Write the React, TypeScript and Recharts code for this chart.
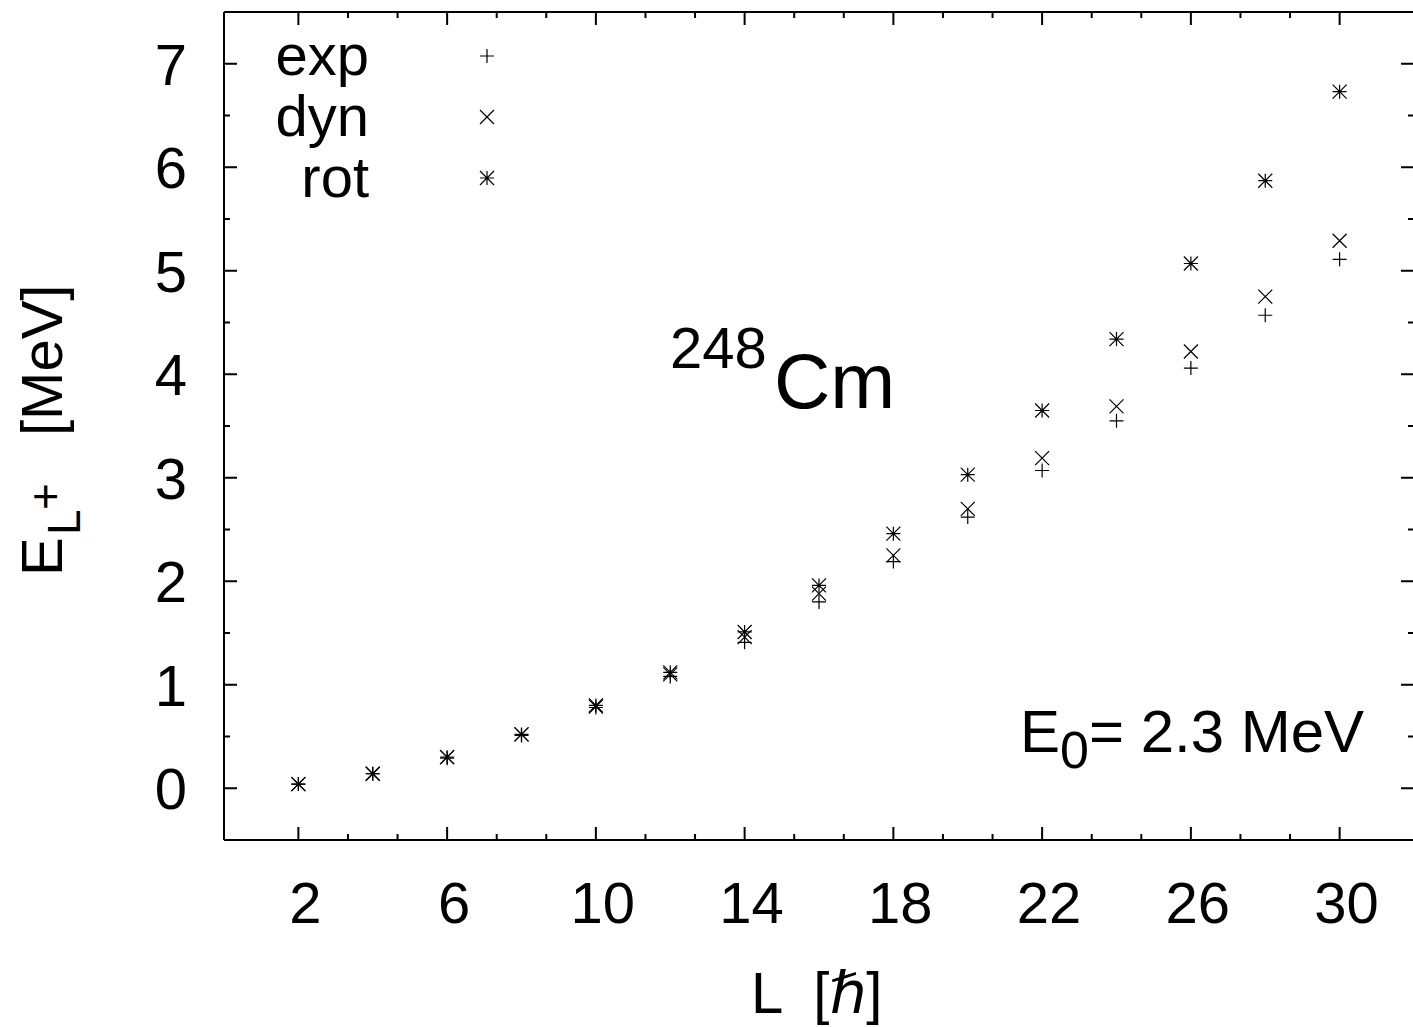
import React from 'react';
import { ScatterChart, Scatter, XAxis, YAxis, Legend } from 'recharts';

// angular momentum L [hbar]
const spins = [2, 4, 6, 8, 10, 12, 14, 16, 18, 20, 22, 24, 26, 28, 30];
// level energies [MeV]
const expE = [0.04, 0.14, 0.29, 0.51, 0.78, 1.08, 1.41, 1.80, 2.19, 2.62, 3.07, 3.55, 4.06, 4.57, 5.11];
const dynE = [0.04, 0.14, 0.30, 0.52, 0.79, 1.10, 1.46, 1.88, 2.25, 2.70, 3.19, 3.69, 4.22, 4.75, 5.29];
const rotE = [0.04, 0.14, 0.30, 0.52, 0.80, 1.12, 1.51, 1.96, 2.46, 3.03, 3.65, 4.34, 5.07, 5.87, 6.73];

const xMajor = [2, 6, 10, 14, 18, 22, 26, 30];
const yMajor = [0, 1, 2, 3, 4, 5, 6, 7];

const xMinor = xMajor.slice(1).flatMap((t) => [t - 8 / 3, t - 4 / 3]);
const yMinor = yMajor.slice(1).map((t) => t - 0.5);
const xTicks = [...xMajor, ...xMinor].sort((a, b) => a - b);
const yTicks = [...yMajor, ...yMinor].sort((a, b) => a - b);

const legendItems = [
  { name: 'exp', marker: 'plus' },
  { name: 'dyn', marker: 'cross' },
  { name: 'rot', marker: 'star' },
];

const FONT = '"Liberation Sans", Arial, Helvetica, sans-serif';
const INK = '#000';

const toRows = (ys: number[]) => spins.map((L, i) => ({ L, E: ys[i] }));

function markerPath(kind: string, cx: number, cy: number, s = 7) {
  const plus = `M${cx - s},${cy}H${cx + s}M${cx},${cy - s}V${cy + s}`;
  const cross = `M${cx - s},${cy - s}L${cx + s},${cy + s}M${cx - s},${cy + s}L${cx + s},${cy - s}`;
  if (kind === 'plus') return plus;
  if (kind === 'cross') return cross;
  return plus + cross;
}

const shapeFor = (kind: string) => (p: any) => (
  <path d={markerPath(kind, p.cx, p.cy)} stroke={INK} strokeWidth={1.2} fill="none" />
);

const isMajor = (list: number[], v: number) => list.some((m) => Math.abs(m - v) < 1e-6);

const BottomTick = (p: any) => {
  const v = p.payload.value;
  const major = isMajor(xMajor, v);
  return (
    <g>
      <line x1={p.x} x2={p.x} y1={p.y} y2={p.y - (major ? 13 : 6)} stroke={INK} strokeWidth={2} />
      {major && (
        <text x={p.x + 7} y={p.y + 83} textAnchor="middle" fontSize={58} fontFamily={FONT} fill={INK}>
          {v}
        </text>
      )}
    </g>
  );
};

const TopTick = (p: any) => {
  const major = isMajor(xMajor, p.payload.value);
  return <line x1={p.x} x2={p.x} y1={p.y} y2={p.y + (major ? 13 : 6)} stroke={INK} strokeWidth={2} />;
};

const LeftTick = (p: any) => {
  const v = p.payload.value;
  const major = isMajor(yMajor, v);
  return (
    <g>
      <line x1={p.x} x2={p.x + (major ? 13 : 6)} y1={p.y} y2={p.y} stroke={INK} strokeWidth={2} />
      {major && (
        <text x={p.x - 37} y={p.y + 21} textAnchor="end" fontSize={58} fontFamily={FONT} fill={INK}>
          {v}
        </text>
      )}
    </g>
  );
};

const RightTick = (p: any) => {
  const major = isMajor(yMajor, p.payload.value);
  return <line x1={p.x} x2={p.x - (major ? 13 : 6)} y1={p.y} y2={p.y} stroke={INK} strokeWidth={2} />;
};

const KeyBox = () => (
  <svg width={520} height={220} style={{ display: 'block' }}>
    {legendItems.map((it, i) => {
      const cy = 56 + i * 61;
      return (
        <g key={it.name}>
          <text x={369} y={cy + 19} textAnchor="end" fontSize={58} fontFamily={FONT} fill={INK}>
            {it.name}
          </text>
          <path d={markerPath(it.marker, 487, cy)} stroke={INK} strokeWidth={1.2} fill="none" />
        </g>
      );
    })}
  </svg>
);

const Notes = () => (
  <g fontFamily={FONT} fill={INK}>
    <text x={670} y={368} fontSize={58}>248</text>
    <text x={774} y={408} fontSize={78}>Cm</text>
    <text x={1020} y={752} fontSize={60}>
      E
      <tspan fontSize={52} dy={16}>0</tspan>
      <tspan dy={-16}>= 2.3 MeV</tspan>
    </text>
    <text transform="translate(62,576) rotate(-90)" fontSize={58} style={{ whiteSpace: 'pre' }}>
      <tspan x={0}>E</tspan>
      <tspan x={41} dy={18} fontSize={46}>L</tspan>
      <tspan x={66} dy={-19} fontSize={46}>+</tspan>
      <tspan x={140} dy={1}>[MeV]</tspan>
    </text>
    <text x={751} y={1013} fontSize={58} style={{ whiteSpace: 'pre' }}>
      L  [<tspan fontFamily={'"DejaVu Sans", ' + FONT}>ℏ</tspan>]
    </text>
  </g>
);

export default function App() {
  return (
    <div style={{ position: 'absolute', left: 0, top: 0, width: 1413, height: 1027, overflow: 'hidden', background: '#fff' }}>
      <ScatterChart width={1420} height={1027} margin={{ top: 11, right: 5, bottom: 0, left: 0 }} style={{ fontFamily: FONT }}>
        <XAxis
          xAxisId="b"
          dataKey="L"
          type="number"
          domain={[0, 32]}
          ticks={xTicks}
          interval={0}
          height={187}
          tickSize={0}
          tickMargin={0}
          tickLine={false}
          tick={<BottomTick />}
          axisLine={{ stroke: INK, strokeWidth: 2 }}
          allowDataOverflow
        />
        <XAxis
          xAxisId="t"
          orientation="top"
          dataKey="L"
          type="number"
          domain={[0, 32]}
          ticks={xTicks}
          interval={0}
          height={1}
          tickSize={0}
          tickMargin={0}
          tickLine={false}
          tick={<TopTick />}
          axisLine={{ stroke: INK, strokeWidth: 2 }}
          allowDataOverflow
        />
        <YAxis
          yAxisId="l"
          dataKey="E"
          type="number"
          domain={[-0.5, 7.5]}
          ticks={yTicks}
          interval={0}
          width={224}
          tickSize={0}
          tickMargin={0}
          tickLine={false}
          tick={<LeftTick />}
          axisLine={{ stroke: INK, strokeWidth: 2 }}
          allowDataOverflow
        />
        <YAxis
          yAxisId="r"
          orientation="right"
          dataKey="E"
          type="number"
          domain={[-0.5, 7.5]}
          ticks={yTicks}
          interval={0}
          width={1}
          tickSize={0}
          tickMargin={0}
          tickLine={false}
          tick={<RightTick />}
          axisLine={{ stroke: INK, strokeWidth: 2 }}
          allowDataOverflow
        />
        <Legend
          layout="vertical"
          align="center"
          verticalAlign="middle"
          content={() => <KeyBox />}
          wrapperStyle={{ position: 'absolute', left: 0, top: 0, width: 520, height: 220 }}
        />
        <Scatter name="exp" xAxisId="b" yAxisId="l" data={toRows(expE)} shape={shapeFor('plus')} isAnimationActive={false} />
        <Scatter name="dyn" xAxisId="b" yAxisId="l" data={toRows(dynE)} shape={shapeFor('cross')} isAnimationActive={false} />
        <Scatter name="rot" xAxisId="b" yAxisId="l" data={toRows(rotE)} shape={shapeFor('star')} isAnimationActive={false} />
        {/* invisible twin so the mirrored top/right axes get drawn */}
        <Scatter
          name="frame"
          xAxisId="t"
          yAxisId="r"
          data={toRows(rotE)}
          shape={() => <g />}
          legendType="none"
          isAnimationActive={false}
        />
        <Notes />
      </ScatterChart>
    </div>
  );
}
